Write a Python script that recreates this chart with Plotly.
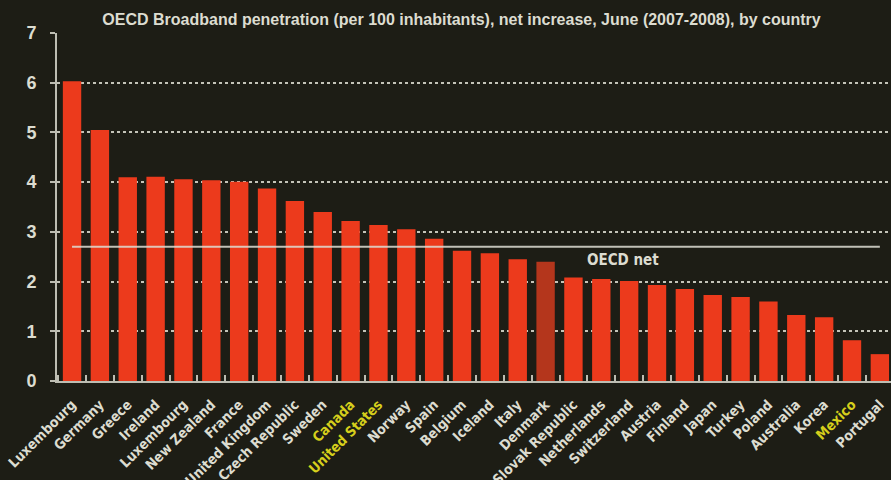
"""
OECD broadband penetration, net increase June 2007-2008, by country.
Dark magazine-style bar chart with an OECD net reference line.
"""

import plotly.graph_objects as go

# Chart data
countries = [
    "Luxembourg", "Germany", "Greece", "Ireland", "Luxembourg", "New Zealand",
    "France", "United Kingdom", "Czech Republic", "Sweden", "Canada",
    "United States", "Norway", "Spain", "Belgium", "Iceland", "Italy",
    "Denmark", "Slovak Republic", "Netherlands", "Switzerland", "Austria",
    "Finland", "Japan", "Turkey", "Poland", "Australia", "Korea", "Mexico",
    "Portugal",
]
net_increase = [
    6.03, 5.05, 4.10, 4.11, 4.06, 4.04,
    4.01, 3.87, 3.62, 3.40, 3.22,
    3.14, 3.05, 2.86, 2.62, 2.57, 2.45,
    2.40, 2.08, 2.05, 2.01, 1.93,
    1.85, 1.73, 1.69, 1.60, 1.33, 1.28, 0.82,
    0.54,
]
highlighted = ["Canada", "United States", "Mexico"]
oecd_net = 2.7
y_ticks = [0, 1, 2, 3, 4, 5, 6, 7]

COLORS = {
    "background": "#1d1d15",
    "bar": "#ec3a1c",
    "bar_dark": "#b4361c",
    "text": "#dcdcd0",
    "highlight": "#d6cf1c",
    "grid": "#c4c4b8",
    "axis": "#bdbdb2",
}

x_pos = list(range(len(countries)))
bar_colors = [COLORS["bar_dark"] if c == "Denmark" else COLORS["bar"] for c in countries]
tick_text = [
    f'<span style="color:{COLORS["highlight"]}">{c}</span>' if c in highlighted else c
    for c in countries
]

fig = go.Figure()

fig.add_trace(
    go.Bar(
        x=x_pos,
        y=net_increase,
        width=0.66,
        marker=dict(color=bar_colors, line=dict(width=0)),
        hovertemplate="%{y:.2f}<extra></extra>",
    )
)

# OECD net reference line
fig.add_shape(
    type="line",
    x0=0, x1=len(countries) - 1,
    y0=oecd_net, y1=oecd_net,
    xref="x", yref="y",
    line=dict(color="rgba(222,222,212,0.85)", width=2),
    layer="above",
)
fig.add_annotation(
    text="<b>OECD net</b>",
    x=19.78, y=2.44,
    xref="x", yref="y",
    showarrow=False,
    font=dict(family="DejaVu Sans Condensed, Liberation Sans Narrow, Arial", size=15,
              color=COLORS["text"]),
)

fig.update_layout(
    title=dict(
        text="<b>OECD Broadband penetration (per 100 inhabitants), net increase, June (2007-2008), by country</b>",
        xref="container", yref="container",
        x=0.518, y=0.96, xanchor="center", yanchor="middle",
        font=dict(family="Liberation Sans, Arial", size=16, color=COLORS["text"]),
    ),
    xaxis=dict(
        range=[-0.54, 29.4],
        tickvals=x_pos,
        ticktext=tick_text,
        tickangle=-45,
        ticks="",
        automargin=False,
        ticklabelstandoff=8,
        tickfont=dict(family="DejaVu Sans Condensed, Liberation Sans Narrow, Arial",
                      size=14, color=COLORS["text"], weight="bold"),
        showgrid=False,
        zeroline=False,
        showline=True,
        linecolor=COLORS["axis"],
        linewidth=2,
        minor=dict(ticks="inside", tick0=0.5, dtick=1, ticklen=6,
                   tickcolor=COLORS["axis"], tickwidth=2, showgrid=False),
    ),
    yaxis=dict(
        range=[0, 7],
        tickvals=y_ticks,
        ticks="outside",
        ticklen=5,
        tickwidth=2,
        tickcolor=COLORS["axis"],
        automargin=False,
        tickfont=dict(family="Liberation Sans, Arial", size=18, color=COLORS["text"],
                      weight="bold"),
        ticklabelstandoff=10,
        showgrid=True,
        gridcolor=COLORS["grid"],
        gridwidth=1.5,
        griddash="dot",
        zeroline=False,
        showline=True,
        linecolor=COLORS["axis"],
        linewidth=2,
    ),
    paper_bgcolor=COLORS["background"],
    plot_bgcolor=COLORS["background"],
    showlegend=False,
    bargap=0.34,
    width=891,
    height=480,
    margin=dict(l=57, r=0, t=33, b=99),
)

# drop the default page margin so the figure fills the window
fig.write_html(
    "out.html",
    config={"displayModeBar": False},
    post_script=f"document.body.style.margin='0';"
    f"document.body.style.background='{COLORS['background']}';"
    "document.body.style.overflow='hidden';",
)
